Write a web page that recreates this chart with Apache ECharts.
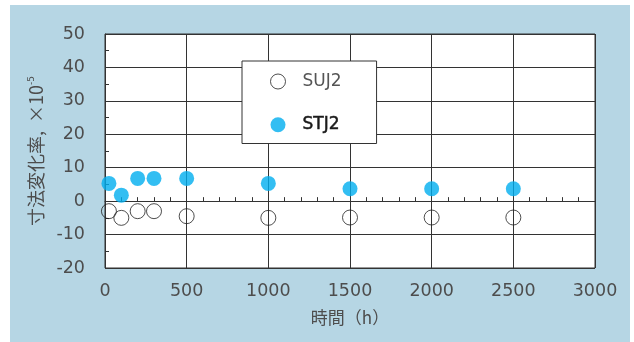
<!DOCTYPE html>
<html>
<head>
<meta charset="utf-8">
<script src="https://cdn.jsdelivr.net/npm/echarts@6/dist/echarts.min.js"></script>
<style>
  html, body { margin: 0; padding: 0; background: #ffffff; }
  #frame { position: absolute; left: 10px; top: 5px; width: 620px; height: 337px; background: #b6d6e4; }
  #chart { position: absolute; left: 0; top: 0; width: 634px; height: 342px; }
</style>
</head>
<body>
<div id="frame"></div>
<div id="chart"></div>
<script>
// Elapsed time (h) for each measurement
const hours = [24, 100, 200, 300, 500, 1000, 1500, 2000, 2500];
// Dimensional change rate, x10^-5
const suj2 = [-3.0, -5.0, -3.0, -3.0, -4.5, -5.0, -4.9, -4.9, -4.9];
const stj2 = [5.3, 1.8, 6.8, 6.8, 6.8, 5.3, 3.7, 3.7, 3.7];

const seriesNames = ['SUJ2', 'STJ2'];
const xName = '時間（h）';
const yName = '寸法変化率,  ×10{sup|-5}';

const toPairs = (xs, ys) => xs.map((x, i) => [x, ys[i]]);

const labelFont = { fontFamily: 'DejaVu Sans', fontSize: 17.5, color: '#4d4d4d' };
const lineCol = '#333333';

const chart = echarts.init(document.getElementById('chart'), null, { renderer: 'canvas' });
chart.setOption({
  animation: false,
  backgroundColor: 'transparent',
  grid: {
    left: 105, top: 34, width: 490, height: 234,
    show: true, backgroundColor: '#ffffff', borderColor: lineCol, borderWidth: 1
  },
  legend: {
    orient: 'vertical',
    left: 242, top: 61,
    backgroundColor: '#ffffff',
    borderColor: lineCol, borderWidth: 1,
    padding: [12, 35, 10, 28],
    itemWidth: 15, itemHeight: 15,
    itemGap: 26,
    textStyle: { fontFamily: 'DejaVu Sans', fontSize: 17, color: '#555', padding: [0, 0, 0, 12] },
    data: [
      { name: seriesNames[0], icon: 'circle', itemStyle: { color: '#ffffff', borderColor: '#222', borderWidth: 1 } },
      { name: seriesNames[1], icon: 'circle',
        textStyle: { color: '#1a1a1a', textBorderColor: '#1a1a1a', textBorderWidth: 0.5 } }
    ]
  },
  xAxis: {
    type: 'value', min: 0, max: 3000, interval: 500,
    name: xName, nameLocation: 'middle', nameGap: 41,
    nameTextStyle: { fontFamily: 'Noto Sans CJK JP', fontSize: 17, color: '#4d4d4d' },
    axisLine: { lineStyle: { color: lineCol, width: 1 } },
    axisTick: { show: true, inside: true, length: 0 },
    minorTick: { show: true, splitNumber: 5, length: 4, lineStyle: { color: lineCol } },
    axisLabel: Object.assign({ margin: 14, formatter: v => String(v) }, labelFont),
    splitLine: { show: true, lineStyle: { color: lineCol, width: 1 } }
  },
  yAxis: {
    type: 'value', min: -20, max: 50, interval: 10,
    name: yName, nameLocation: 'middle', nameGap: 52, nameRotate: 90,
    nameTextStyle: {
      fontFamily: 'Noto Sans CJK JP', fontSize: 18, color: '#4d4d4d',
      rich: { sup: { fontFamily: 'DejaVu Sans', fontSize: 9, color: '#4d4d4d', verticalAlign: 'top', padding: [0, 0, 10, 0] } }
    },
    axisLine: { lineStyle: { color: lineCol, width: 1 } },
    axisTick: { show: true, inside: true, length: 0 },
    minorTick: { show: true, splitNumber: 2, length: 4, lineStyle: { color: lineCol } },
    axisLabel: Object.assign({ margin: 20 }, labelFont),
    splitLine: { show: true, lineStyle: { color: lineCol, width: 1 } }
  },
  series: [
    {
      name: seriesNames[0], type: 'scatter', symbol: 'circle', symbolSize: 15,
      itemStyle: { color: 'rgba(255,255,255,0)', borderColor: '#222', borderWidth: 1 },
      data: toPairs(hours, suj2)
    },
    {
      name: seriesNames[1], type: 'scatter', symbol: 'circle', symbolSize: 15,
      itemStyle: { color: '#00aeef' },
      data: toPairs(hours, stj2)
    }
  ]
});
</script>
</body>
</html>
